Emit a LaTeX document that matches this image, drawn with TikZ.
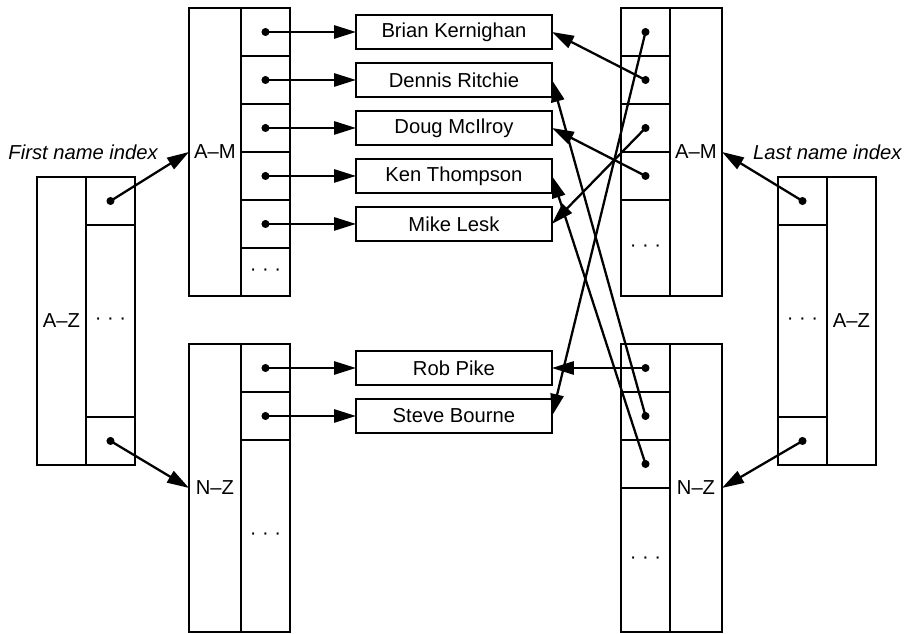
\documentclass[tikz,border=0pt]{standalone}
\usepackage{fontspec}
\setmainfont{Liberation Sans}
\usetikzlibrary{positioning,arrows.meta}

\begin{document}
\begin{tikzpicture}[x=0.02cm,y=-0.02cm,node distance=0pt,
  font=\fontsize{11.5}{13}\selectfont,
  box/.style={draw,line width=1.6pt,inner sep=0pt,outer sep=0pt},
  col/.style={box,minimum width=1.04cm,minimum height=5.76cm},
  cell/.style={box,minimum width=0.98cm,minimum height=0.96cm},
  more/.style={cell,minimum height=#1},
  who/.style={box,minimum width=3.92cm,minimum height=0.68cm},
  ptr/.style={-{Triangle[length=12.5pt,width=7.5pt]},line width=1.3pt},
  tag/.style={font=\fontsize{11.5}{13}\selectfont\itshape}]
  \useasboundingbox (0,0) rectangle (909,634);

  % first name index
  \node[col,minimum width=0.98cm,anchor=north west] (fz) at (37,177) {A–Z};
  \node[cell,anchor=north west] (fz1) at (fz.north east) {};
  \node[more=3.84cm,below=of fz1] (fz2) {· · ·};
  \node[cell,below=of fz2] (fz3) {};

  \node[col,anchor=north west] (fm) at (189,8) {A–M};
  \node[cell,anchor=north west] (fm1) at (fm.north east) {};
  \node[cell,below=of fm1] (fm2) {};
  \node[cell,below=of fm2] (fm3) {};
  \node[cell,below=of fm3] (fm4) {};
  \node[cell,below=of fm4] (fm5) {};
  \node[cell,below=of fm5] (fm6) {· · ·};

  \node[col,anchor=north west] (fn) at (189,344) {N–Z};
  \node[cell,anchor=north west] (fn1) at (fn.north east) {};
  \node[cell,below=of fn1] (fn2) {};
  \node[more=3.84cm,below=of fn2] (fn3) {· · ·};

  \node[tag,left=0.5cm of fm.west] (flbl) {First name index};

  % people
  \node[who,right=1.32cm of fm1] (bk) {Brian Kernighan};
  \node[who,right=1.32cm of fm2] (dr) {Dennis Ritchie};
  \node[who,right=1.32cm of fm3] (dm) {Doug McIlroy};
  \node[who,right=1.32cm of fm4] (kt) {Ken Thompson};
  \node[who,right=1.32cm of fm5] (ml) {Mike Lesk};
  \node[who,right=1.32cm of fn1] (rp) {Rob Pike};
  \node[who,right=1.32cm of fn2] (sb) {Steve Bourne};

  % last name index
  \node[col,anchor=north west] (lm) at (670,8) {A–M};
  \node[cell,anchor=north east] (lm1) at (lm.north west) {};
  \node[cell,below=of lm1] (lm2) {};
  \node[cell,below=of lm2] (lm3) {};
  \node[cell,below=of lm3] (lm4) {};
  \node[more=1.92cm,below=of lm4] (lm5) {· · ·};

  \node[col,anchor=north west] (ln) at (670,344) {N–Z};
  \node[cell,anchor=north east] (ln1) at (ln.north west) {};
  \node[cell,below=of ln1] (ln2) {};
  \node[cell,below=of ln2] (ln3) {};
  \node[more=2.88cm,below=of ln3] (ln4) {· · ·};

  \node[col,minimum width=0.98cm,anchor=north west] (lz) at (827,177) {A–Z};
  \node[cell,anchor=north east] (lz1) at (lz.north west) {};
  \node[more=3.84cm,below=of lz1] (lz2) {· · ·};
  \node[cell,below=of lz2] (lz3) {};

  \node[tag,right=0.5cm of lm.east] (llbl) {Last name index};

  % pointers
  \fill (fz1) circle (2.3pt) (fz3) circle (2.3pt)
        (fm1) circle (2.3pt) (fm2) circle (2.3pt) (fm3) circle (2.3pt)
        (fm4) circle (2.3pt) (fm5) circle (2.3pt)
        (fn1) circle (2.3pt) (fn2) circle (2.3pt)
        (lm1) circle (2.3pt) (lm2) circle (2.3pt) (lm3) circle (2.3pt)
        (lm4) circle (2.3pt)
        (ln1) circle (2.3pt) (ln2) circle (2.3pt) (ln3) circle (2.3pt)
        (lz1) circle (2.3pt) (lz3) circle (2.3pt);

  \draw[ptr] (fz1.center) -- (fm.west);
  \draw[ptr] (fz3.center) -- (fn.west);
  \draw[ptr] (fm1.center) -- (bk.west);
  \draw[ptr] (fm2.center) -- (dr.west);
  \draw[ptr] (fm3.center) -- (dm.west);
  \draw[ptr] (fm4.center) -- (kt.west);
  \draw[ptr] (fm5.center) -- (ml.west);
  \draw[ptr] (fn1.center) -- (rp.west);
  \draw[ptr] (fn2.center) -- (sb.west);

  \draw[ptr] (lz1.center) -- (lm.east);
  \draw[ptr] (lz3.center) -- (ln.east);
  \draw[ptr] (lm1.center) -- (sb.east);
  \draw[ptr] (lm2.center) -- (bk.east);
  \draw[ptr] (lm3.center) -- (ml.east);
  \draw[ptr] (lm4.center) -- (dm.east);
  \draw[ptr] (ln1.center) -- (rp.east);
  \draw[ptr] (ln2.center) -- (dr.east);
  \draw[ptr] (ln3.center) -- (kt.east);
\end{tikzpicture}
\end{document}
